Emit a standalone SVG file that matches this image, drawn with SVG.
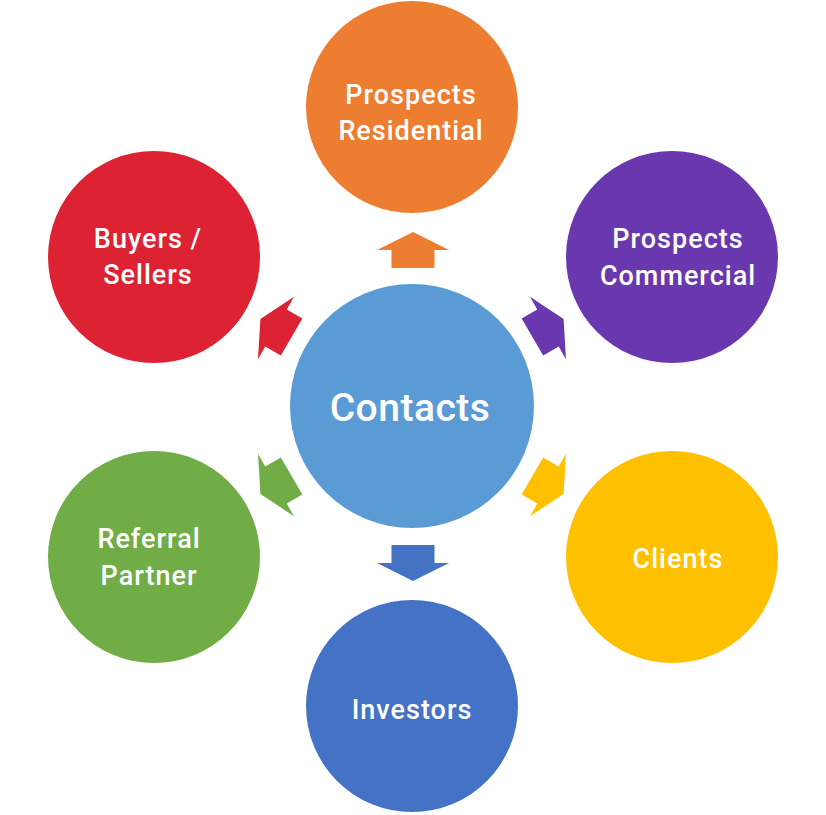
<svg xmlns="http://www.w3.org/2000/svg" width="826" height="815" viewBox="0 0 826 815">
<defs>
<style>
text{font-family:Roboto,"DejaVu Sans",sans-serif;font-weight:500;fill:#fff;text-anchor:middle}
.t{font-size:27px;letter-spacing:1px}
.c{font-size:39px;letter-spacing:0.5px}
</style>
<path id="arr" d="M0,-18 L36,0 L21.5,0 L21.5,18 L-21.5,18 L-21.5,0 L-36,0 Z"/>
</defs>
<rect width="826" height="815" fill="#fff"/>
<g id="connectors">
<use href="#arr" transform="translate(413,250)" fill="#ED7D31"/>
<use href="#arr" transform="translate(276,328) rotate(-60)" fill="#DD2233"/>
<use href="#arr" transform="translate(548,328) rotate(60)" fill="#6A38AE"/>
<use href="#arr" transform="translate(276,485) rotate(-120)" fill="#70AD47"/>
<use href="#arr" transform="translate(548,485) rotate(120)" fill="#FFC000"/>
<use href="#arr" transform="translate(413,563) rotate(180)" fill="#4472C4"/>
</g>
<g id="contacts">
<circle cx="412" cy="406" r="122" fill="#5B9BD5"/>
<text class="c" x="410" y="421">Contacts</text>
</g>
<g id="prospects-residential">
<circle cx="412" cy="107" r="106" fill="#ED7D31"/>
<text class="t" x="411" y="104">Prospects</text>
<text class="t" x="411" y="140">Residential</text>
</g>
<g id="buyers-sellers">
<circle cx="154" cy="257" r="106" fill="#DD2233"/>
<text class="t" x="148" y="248">Buyers /</text>
<text class="t" x="148" y="284">Sellers</text>
</g>
<g id="prospects-commercial">
<circle cx="672" cy="257" r="106" fill="#6A38AE"/>
<text class="t" x="678" y="248">Prospects</text>
<text class="t" x="678" y="285">Commercial</text>
</g>
<g id="referral-partner">
<circle cx="154" cy="557" r="106" fill="#70AD47"/>
<text class="t" x="149" y="548">Referral</text>
<text class="t" x="149" y="585">Partner</text>
</g>
<g id="clients">
<circle cx="672" cy="557" r="106" fill="#FFC000"/>
<text class="t" x="678" y="568">Clients</text>
</g>
<g id="investors">
<circle cx="412" cy="706" r="106" fill="#4472C4"/>
<text class="t" x="412" y="719">Investors</text>
</g>
</svg>
